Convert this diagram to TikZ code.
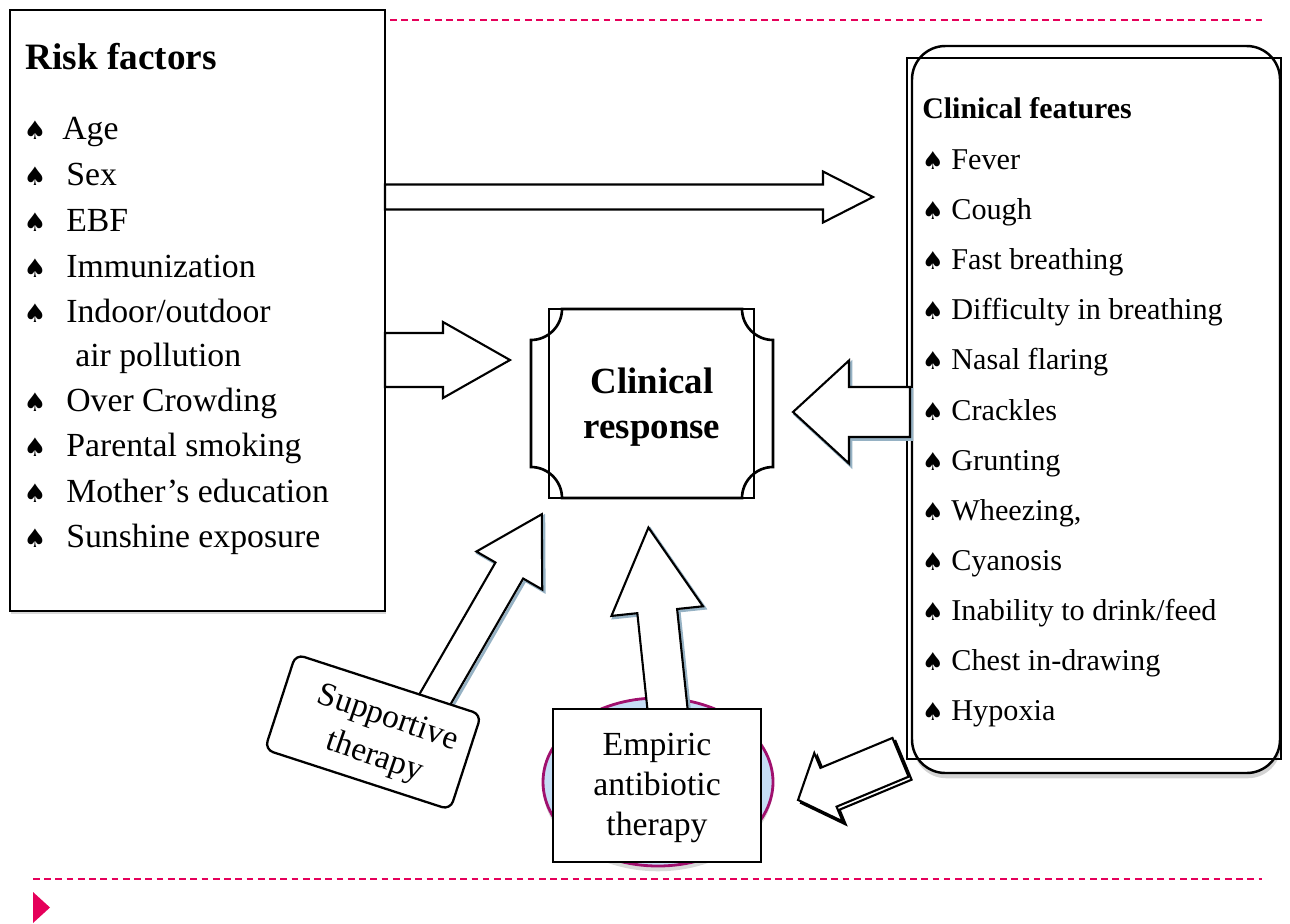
\documentclass[tikz,border=0pt]{standalone}
\usepackage{fontspec}
\setmainfont{Liberation Serif}
\newfontfamily\symf{DejaVu Sans}
\usetikzlibrary{shadows}
\definecolor{crim}{RGB}{229,0,90}
\definecolor{ellfill}{RGB}{198,221,245}
\definecolor{ellline}{RGB}{160,16,110}
\definecolor{shblue}{RGB}{150,178,196}
\newcommand\blockarr[7]{\path[#1,shift={#2},rotate=#3] (0,-#6) -- (#4,-#6) -- (#4,-#7) -- ({#4+#5},0) -- (#4,#7) -- (#4,#6) -- (0,#6) -- cycle;}
\tikzset{
  box/.style={draw=black, line width=1.3pt, fill=white},
  itemL/.style={anchor=base west, inner sep=0pt, font=\fontsize{19.2}{22}\selectfont},
  itemR/.style={anchor=base west, inner sep=0pt, font=\fontsize{17.2}{20}\selectfont},
  bulL/.style={anchor=base, inner sep=0pt, font=\symf\fontsize{14.5}{15}\selectfont},
  bulR/.style={anchor=base, inner sep=0pt, font=\symf\fontsize{14}{15}\selectfont},
  midtxt/.style={anchor=base, inner sep=0pt},
  barrow/.style={draw=black, line width=1.2pt, fill=white, line join=miter},
  bshadow/.style={draw=shblue, line width=1.6pt, line join=miter},
  kshadow/.style={draw=black, line width=1.2pt, fill=white, line join=miter},
  dashline/.style={draw=crim, line width=1.2pt, dash pattern=on 3.8pt off 2.6pt},
  softshadow/.style={drop shadow={opacity=0.3, shadow xshift=0.8pt, shadow yshift=-1.5pt}}
}
\begin{document}
\begin{tikzpicture}[x=0.02cm, y=-0.02cm]
\useasboundingbox (0,0) rectangle (1290,923);

% frame decorations
\coordinate (t1) at (390,20); \coordinate (t2) at (1262,20);
\coordinate (b1) at (33,879); \coordinate (b2) at (1262,879);
\draw[dashline] (t1) -- (t2);
\draw[dashline] (b1) -- (b2);
\fill[crim] (33,892) -- (50,907.5) -- (33,923) -- cycle;

% left box
\path[box, softshadow] (10,10) rectangle (385,611);
\node[anchor=base west, inner sep=0pt, font=\bfseries\fontsize{21.2}{24}\selectfont] (rft) at (25,69) {Risk factors};
\node[bulL] (lb1) at (35,139) {♠};  \node[itemL] (l1) at (62,139) {Age};
\node[bulL] (lb2) at (35,185) {♠};  \node[itemL] (l2) at (66,185) {Sex};
\node[bulL] (lb3) at (35,231) {♠};  \node[itemL] (l3) at (66,231) {EBF};
\node[bulL] (lb4) at (35,277) {♠};  \node[itemL] (l4) at (66,277) {Immunization};
\node[bulL] (lb5) at (35,322) {♠};  \node[itemL] (l5) at (66,322) {Indoor/outdoor};
                                    \node[itemL] (l6) at (75,366) {air pollution};
\node[bulL] (lb7) at (35,411) {♠};  \node[itemL] (l7) at (66,411) {Over Crowding};
\node[bulL] (lb8) at (35,456) {♠};  \node[itemL] (l8) at (66,456) {Parental smoking};
\node[bulL] (lb9) at (35,502) {♠};  \node[itemL] (l9) at (66,502) {Mother’s education};
\node[bulL] (lb10) at (35,547) {♠}; \node[itemL] (l10) at (66,547) {Sunshine exposure};

% right box
\path[draw=black, line width=1.4pt, fill=white, rounded corners=19pt,
      drop shadow={opacity=0.35, shadow xshift=0.6pt, shadow yshift=-3pt}] (912,46) rectangle (1280,773);
\draw[line width=1.3pt] (907,58) rectangle (1281,759);
\node[anchor=base west, inner sep=0pt, font=\bfseries\fontsize{17}{20}\selectfont] (cft) at (922,118) {Clinical features};
\node[bulR] (rb1) at (933,169) {♠};  \node[itemR] (r1) at (951,169) {Fever};
\node[bulR] (rb2) at (933,219) {♠};  \node[itemR] (r2) at (951,219) {Cough};
\node[bulR] (rb3) at (933,269) {♠};  \node[itemR] (r3) at (951,269) {Fast breathing};
\node[bulR] (rb4) at (933,319) {♠};  \node[itemR] (r4) at (951,319) {Difficulty in breathing};
\node[bulR] (rb5) at (933,369) {♠};  \node[itemR] (r5) at (951,369) {Nasal flaring};
\node[bulR] (rb6) at (933,420) {♠};  \node[itemR] (r6) at (951,420) {Crackles};
\node[bulR] (rb7) at (933,470) {♠};  \node[itemR] (r7) at (951,470) {Grunting};
\node[bulR] (rb8) at (933,520) {♠};  \node[itemR] (r8) at (951,520) {Wheezing,};
\node[bulR] (rb9) at (933,570) {♠};  \node[itemR] (r9) at (951,570) {Cyanosis};
\node[bulR] (rb10) at (933,620) {♠}; \node[itemR] (r10) at (951,620) {Inability to drink/feed};
\node[bulR] (rb11) at (933,670) {♠}; \node[itemR] (r11) at (951,670) {Chest in-drawing};
\node[bulR] (rb12) at (933,720) {♠}; \node[itemR] (r12) at (951,720) {Hypoxia};

% arrows from risk factors
\blockarr{barrow}{(385,197)}{0}{438}{50}{12.5}{25.5}
\blockarr{barrow}{(385,360)}{0}{58}{67}{27}{38}

% arrow from clinical features to clinical response
\blockarr{bshadow}{(912,414.5)}{180}{61}{56}{25}{51.5}
\blockarr{barrow}{(910,412)}{180}{61}{56}{25}{51.5}

% clinical response plaque
\path[draw=black, line width=1.5pt, fill=white]
  (562,309) -- (742,309) .. controls (742,326) and (756,340) .. (773,340)
  -- (773,467) .. controls (756,467) and (742,481) .. (742,498)
  -- (562,498) .. controls (562,481) and (548,467) .. (531,467)
  -- (531,340) .. controls (548,340) and (562,326) .. (562,309) -- cycle;
\draw[line width=1.5pt] (549,309) rectangle (754,498);
\node[midtxt, font=\bfseries\fontsize{21}{24}\selectfont] (cr1) at (652,393) {Clinical};
\node[midtxt, font=\bfseries\fontsize{21}{24}\selectfont] (cr2) at (652,438) {response};

% empiric antibiotic therapy
\path[draw=ellline, line width=1.6pt, fill=ellfill,
      drop shadow={opacity=0.3, shadow xshift=0pt, shadow yshift=-3pt}] (658,782) ellipse [x radius=115, y radius=84];
\blockarr{bshadow}{(670.5,720.5)}{96}{108}{84}{20}{46}
\blockarr{barrow}{(668.5,718.5)}{96}{108}{84}{20}{46}
\path[box, line width=1.2pt] (553,709) rectangle (761,862);
\node[midtxt, font=\fontsize{19.2}{22}\selectfont] (e1) at (657,755) {Empiric};
\node[midtxt, font=\fontsize{19.2}{22}\selectfont] (e2) at (657,795) {antibiotic};
\node[midtxt, font=\fontsize{19.2}{22}\selectfont] (e3) at (657,835) {therapy};

% supportive therapy
\blockarr{bshadow}{(432.5,709)}{60}{157.6}{65}{16}{38}
\blockarr{barrow}{(430.5,707)}{60}{157.6}{65}{16}{38}
\node[draw=black, line width=1.3pt, fill=white, rounded corners=5pt, rotate=-18,
      minimum width=111pt, minimum height=57pt] (sup) at (373,732) {};
\node[midtxt, rotate=-19, font=\fontsize{19}{22}\selectfont] (sup1) at (385,726) {Supportive};
\node[midtxt, rotate=-19, font=\fontsize{19}{22}\selectfont] (sup2) at (372,765) {therapy};

% arrow from clinical features down-left
\blockarr{kshadow}{(903.5,760.3)}{202.6}{78}{33}{21}{37}
\blockarr{barrow}{(900.5,757.3)}{202.6}{78}{33}{21}{37}
\end{tikzpicture}
\end{document}
